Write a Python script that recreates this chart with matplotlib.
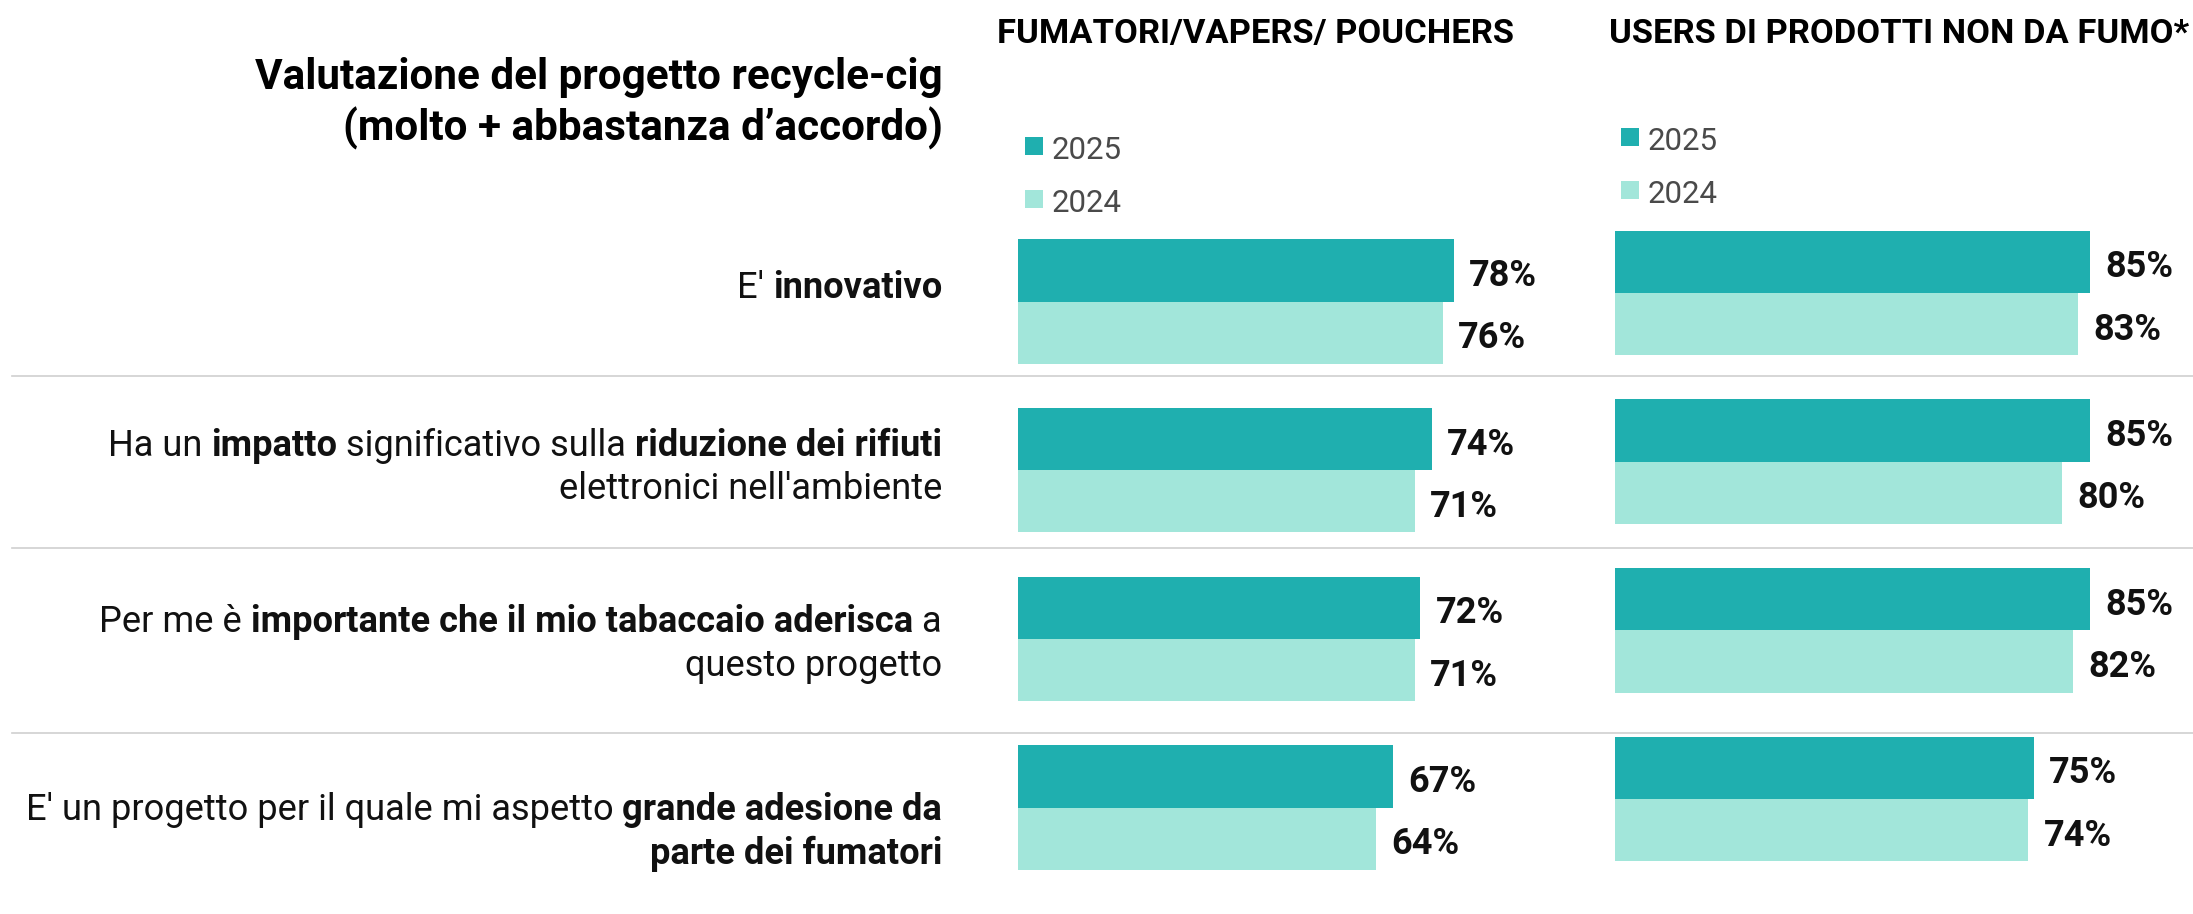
import matplotlib
matplotlib.use("Agg")
import numpy as np
import matplotlib.pyplot as plt
from matplotlib.font_manager import FontProperties
from matplotlib.patches import Rectangle
from matplotlib.legend_handler import HandlerPatch
from matplotlib.lines import Line2D

plt.rcParams['font.family'] = ['Roboto', 'DejaVu Sans']

# ---------------- data ----------------
title_lines = ["Valutazione del progetto recycle-cig", "(molto + abbastanza d’accordo)"]
panel_titles = ["FUMATORI/VAPERS/ POUCHERS", "USERS DI PRODOTTI NON DA FUMO*"]
series_labels = ["2025", "2024"]

# category labels: lines made of (text, weight) segments
categories = [
    [[("E' ", 'normal'), ("innovativo", 'bold')]],
    [[("Ha un ", 'normal'), ("impatto", 'bold'), (" significativo sulla ", 'normal'),
      ("riduzione dei rifiuti", 'bold')],
     [("elettronici nell'ambiente", 'normal')]],
    [[("Per me è ", 'normal'), ("importante che il mio tabaccaio aderisca", 'bold'), (" a", 'normal')],
     [("questo progetto", 'normal')]],
    [[("E' un progetto per il quale mi aspetto ", 'normal'), ("grande adesione da", 'bold')],
     [("parte dei fumatori", 'bold')]],
]

fumatori_2025 = [78, 74, 72, 67]
fumatori_2024 = [76, 71, 71, 64]
users_2025 = [85, 85, 85, 75]
users_2024 = [83, 80, 82, 74]

# ---------------- style / layout ----------------
DARK = '#1FAFAF'
LIGHT = '#A2E6DA'
W, H = 2193, 914
fig = plt.figure(figsize=(W / 100, H / 100), dpi=100)
renderer = fig.canvas.get_renderer()


def fx(px):
    return px / W


def fy(py):
    return 1 - py / H


def text_w(s, size, weight):
    fp = FontProperties(family=['Roboto', 'DejaVu Sans'], size=size, weight=weight)
    w1 = renderer.get_text_width_height_descent('|' + s + '|', fp, ismath=False)[0]
    w0 = renderer.get_text_width_height_descent('||', fp, ismath=False)[0]
    return w1 - w0


def line_w(segments, size):
    return sum(text_w(s, size, w) for s, w in segments)


def draw_rich(right_px, base_py, segments, size, color='#111111'):
    advs = [text_w(s, size, w) for s, w in segments]
    x = right_px - sum(advs)
    for (s, w), a in zip(segments, advs):
        fig.text(fx(x), fy(base_py), s, fontsize=size, fontweight=w,
                 ha='left', va='baseline', color=color)
        x += a


GROUP_PITCH = 168.67
BAR_H_PX = 62.3
PX_PER_PCT = 5.59
h = BAR_H_PX / GROUP_PITCH


def make_axes(x0, yc0):
    top = yc0 - 0.5 * GROUP_PITCH
    bottom = yc0 + 3.5 * GROUP_PITCH
    ax = fig.add_axes([fx(x0), fy(bottom), 100 * PX_PER_PCT / W, (bottom - top) / H])
    ax.set_xlim(0, 100)
    ax.set_ylim(3.5, -0.5)
    ax.set_axis_off()
    return ax


def make_square(legend, orig_handle, xdescent, ydescent, width, height, fontsize):
    return Rectangle((-xdescent, 2.6), 13, 13)


LEG_FS = 22.5
panels = [
    dict(x0=1018, yc0=301.5, v25=fumatori_2025, v24=fumatori_2024, leg=(1025, 136)),
    dict(x0=1614.5, yc0=293.0, v25=users_2025, v24=users_2024, leg=(1621, 127)),
]

y = np.arange(len(categories))
for p in panels:
    ax = make_axes(p['x0'], p['yc0'])
    b25 = ax.barh(y - h / 2, p['v25'], height=h, color=DARK)
    b24 = ax.barh(y + h / 2, p['v24'], height=h, color=LIGHT)
    for bars, vals in ((b25, p['v25']), (b24, p['v24'])):
        for rect, v in zip(bars, vals):
            ax.annotate(f"{v}%", xy=(v, rect.get_y() + rect.get_height() / 2),
                        xytext=(11, -11.2), textcoords='offset points',
                        ha='left', va='baseline', fontsize=26, fontweight='bold',
                        color='#111111')
    lx, ly = p['leg']
    ax.legend([b25[0], b24[0]], series_labels, loc='upper left',
              bbox_to_anchor=(fx(lx), fy(ly)), bbox_transform=fig.transFigure,
              frameon=False, borderpad=0, borderaxespad=0,
              handlelength=13 / LEG_FS, handleheight=0.7, handletextpad=0.26,
              labelspacing=0.77, prop=dict(size=LEG_FS, weight='normal'),
              labelcolor='#4a4a4a',
              handler_map={Rectangle: HandlerPatch(patch_func=make_square)})

# title (fit width of first line)
t_size = 28 * 687 / text_w(title_lines[0], 28, 'bold')
fig.text(fx(943), fy(89), title_lines[0], ha='right', va='baseline',
         fontsize=t_size, fontweight='bold', color='black')
fig.text(fx(943), fy(140), title_lines[1], ha='right', va='baseline',
         fontsize=t_size, fontweight='bold', color='black')

# panel headers
hs = min(24 * 534 / text_w(panel_titles[0], 24, 'bold'),
         24 * 578 / text_w(panel_titles[1], 24, 'bold'))
fig.text(fx(997), fy(43), panel_titles[0], ha='left', va='baseline',
         fontsize=hs, fontweight='bold', color='black')
fig.text(fx(1609), fy(43), panel_titles[1], ha='left', va='baseline',
         fontsize=hs, fontweight='bold', color='black')

# category labels
l_size = 20 * 834 / line_w(categories[1][0], 20)
label_baselines = [[298], [456, 499], [632, 676], [820, 864]]
for lines, bases in zip(categories, label_baselines):
    for segs, b in zip(lines, bases):
        draw_rich(942, b, segs, l_size)

# separators
for sy in [375.7, 548, 733.3]:
    fig.add_artist(Line2D([fx(11.5), 1.0], [fy(sy), fy(sy)], transform=fig.transFigure,
                          color='#CFCFCF', lw=1.2))

fig.savefig('out.png', dpi=100)
